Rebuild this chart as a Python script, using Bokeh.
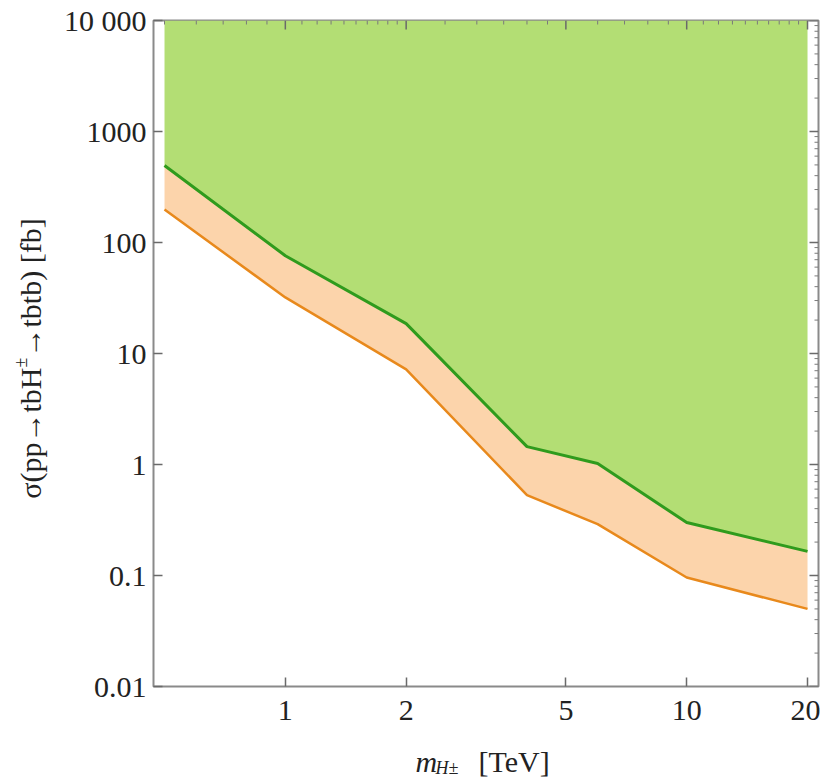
import math
from bokeh.plotting import figure
from bokeh.models import FixedTicker, Label, Range1d
from bokeh.layouts import row, column
from bokeh.embed import file_html
from bokeh.resources import INLINE

# ---- data ----
mass_tev = [0.5, 1, 2, 4, 6, 10, 20]
sigma_green = [494, 76, 18.6, 1.45, 1.02, 0.30, 0.165]
sigma_orange = [198, 32, 7.2, 0.53, 0.29, 0.096, 0.050]

x_lim = (0.4694, 21.3)
y_lim = (0.01, 10000)

x_ticks = [1, 2, 5, 10, 20]
x_tick_labels = ["1", "2", "5", "10", "20"]
x_minor = [0.5, 0.6, 0.7, 0.8, 0.9, 1.1, 1.2, 1.3, 1.4, 1.5, 1.6, 1.7, 1.8, 1.9,
           2.5, 3, 3.5, 4, 4.5, 6, 7, 8, 9, 11, 12, 13, 14, 15, 16, 17, 18, 19]
y_ticks = [0.01, 0.1, 1, 10, 100, 1000, 10000]
y_tick_labels = ["0.01", "0.1", "1", "10", "100", "1000", "10 000"]
y_minor = [m * 10.0 ** k for k in range(-2, 4) for m in range(2, 10)]

FONT = "Liberation Serif"
TXT = "#222222"
TICK = "#6a6a6a"
MINOR = "#7a7a7a"

# main plot: frame 666 x 666, left edge at 152 (60 of which belong to the title strip)
p = figure(width=760, height=736, x_axis_type="log", y_axis_type="log",
           x_range=x_lim, y_range=y_lim,
           output_backend="svg", toolbar_location=None,
           min_border_left=92, min_border_right=2, min_border_top=20, min_border_bottom=50,
           background_fill_color="white", border_fill_color="white")
p.grid.visible = False
p.outline_line_color = "#8a8a8a"
p.outline_line_width = 2

p.varea(x=mass_tev, y1=sigma_green, y2=[y_lim[1]] * len(mass_tev), fill_color="#b3de74")
p.varea(x=mass_tev, y1=sigma_orange, y2=sigma_green, fill_color="#fcd4ab")
p.line(mass_tev, sigma_green, line_color="#2f9b1d", line_width=3)
p.line(mass_tev, sigma_orange, line_color="#e8891c", line_width=2.5)


def style(ax, ticks, labels, standoff):
    ax.ticker = FixedTicker(ticks=ticks, minor_ticks=[])
    ax.axis_line_color = None
    ax.major_tick_in = 9
    ax.major_tick_out = 0
    ax.minor_tick_in = 0
    ax.minor_tick_out = 0
    ax.major_tick_line_color = TICK
    ax.major_tick_line_width = 1.5
    ax.major_label_overrides = {float(t): l for t, l in zip(ticks, labels)}
    ax.major_label_text_font = FONT
    ax.major_label_text_font_size = "30px"
    ax.major_label_text_color = TXT
    ax.major_label_standoff = standoff


style(p.xaxis[0], x_ticks, x_tick_labels, 14)
style(p.yaxis[0], y_ticks, y_tick_labels, 7)

# inward ticks on the top and right edges of the frame
p.ray(x=x_ticks, y=[y_lim[1]] * len(x_ticks), length=9, length_units="screen",
      angle=-math.pi / 2, line_color=TICK, line_width=1.5)
p.ray(x=x_minor, y=[y_lim[1]] * len(x_minor), length=4, length_units="screen",
      angle=-math.pi / 2, line_color=MINOR, line_width=1)
p.ray(x=[x_lim[1]] * len(y_ticks), y=y_ticks, length=9, length_units="screen",
      angle=math.pi, line_color=TICK, line_width=1.5)
p.ray(x=[x_lim[1]] * len(y_minor), y=y_minor, length=4, length_units="screen",
      angle=math.pi, line_color=MINOR, line_width=1)


def strip(w, h, top=0, bottom=0):
    f = figure(width=w, height=h, x_range=Range1d(0, 1), y_range=Range1d(0, 1),
               output_backend="svg", toolbar_location=None,
               min_border_left=0, min_border_right=0,
               min_border_top=top, min_border_bottom=bottom,
               x_axis_location=None, y_axis_location=None,
               background_fill_color="white", border_fill_color="white")
    f.grid.visible = False
    f.outline_line_color = None
    return f


def lab(f, x, y, text, size, italic=False, angle=0.0, align="left"):
    f.add_layout(Label(x=x, y=y, x_units="screen", y_units="screen", text=text,
                       text_font=FONT, text_font_size=size,
                       text_font_style="italic" if italic else "normal",
                       text_color=TXT, text_baseline="alphabetic", text_align=align,
                       angle=angle))


# y-axis title strip (60 x 736); its frame spans the same rows as the plot frame
fy = strip(60, 736, top=20, bottom=50)
lab(fy, 30, 319, "σ(pp→tbH", "30px", angle=math.pi / 2, align="right")
lab(fy, 20, 319, "±", "18px", angle=math.pi / 2)
lab(fy, 30, 329, "→tbtb) [fb]", "30px", angle=math.pi / 2)

# x-axis title strip (820 x 45)
fx = strip(820, 45)
lab(fx, 415, 20, "m", "30px", italic=True)
lab(fx, 435, 14, "H±", "18px", italic=True)
lab(fx, 478, 20, "[TeV]", "30px")

layout = column(row(fy, p), fx)
open("out.html", "w").write(file_html(layout, INLINE))
